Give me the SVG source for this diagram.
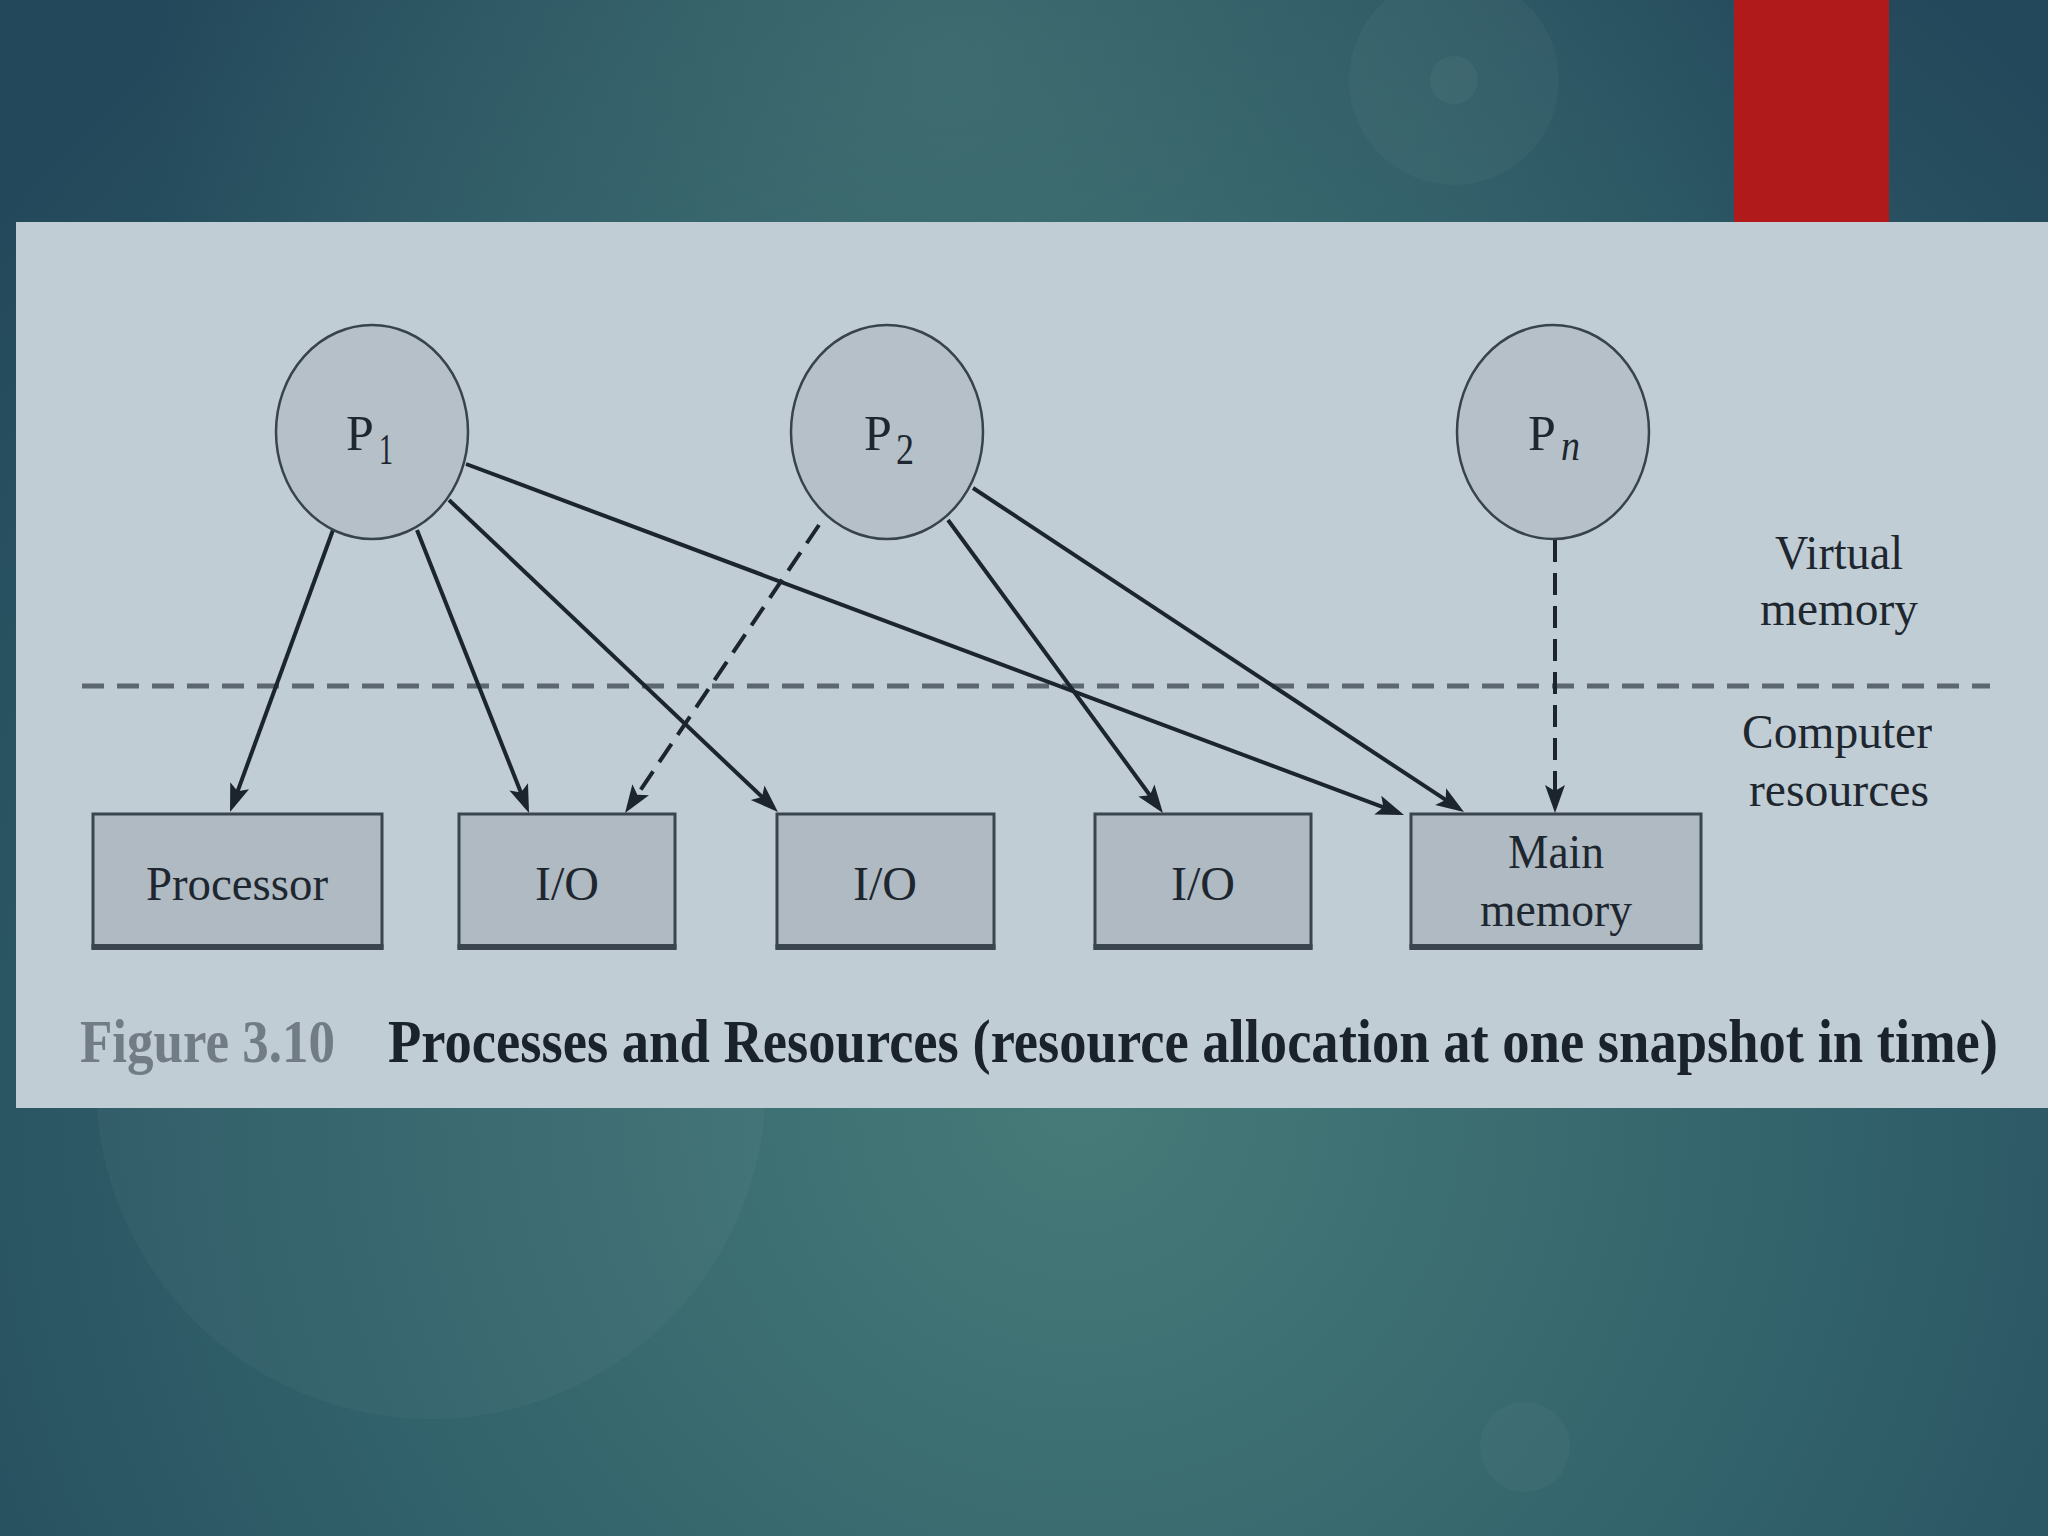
<svg xmlns="http://www.w3.org/2000/svg" width="2048" height="1536" viewBox="0 0 2048 1536">
<defs>
<radialGradient id="bg" cx="1080" cy="1100" r="1400" gradientUnits="userSpaceOnUse">
<stop offset="0" stop-color="#467b79"/>
<stop offset="0.55" stop-color="#31616a"/>
<stop offset="1" stop-color="#23485b"/>
</radialGradient>
<radialGradient id="bgtop" cx="950" cy="60" r="800" gradientUnits="userSpaceOnUse">
<stop offset="0" stop-color="#4a7a78" stop-opacity="0.6"/>
<stop offset="1" stop-color="#4a7a78" stop-opacity="0"/>
</radialGradient>
<marker id="ah" markerUnits="userSpaceOnUse" viewBox="0 0 32 30" markerWidth="32" markerHeight="30" refX="24" refY="15" orient="auto">
<path d="M30,15 L2,5 L8,15 L2,25 Z" fill="#1c252e"/>
</marker>
<style>
.proc{fill:#b5c0c8;stroke:#38434d;stroke-width:2.5}
.box{fill:#afbac2;stroke:#3a4550;stroke-width:3}
.boxb{stroke:#3a4550;stroke-width:6}
.lbl{font-family:"Liberation Serif","Times New Roman",serif;font-size:48px;fill:#1e2730}
.plbl{font-family:"Liberation Serif","Times New Roman",serif;font-size:50px;fill:#1e2730}
.sub{font-family:"Liberation Serif","Times New Roman",serif;font-size:44px;fill:#1e2730}
.conn{stroke:#1c252e;stroke-width:4;fill:none;marker-end:url(#ah)}
.dash{stroke-dasharray:22 11}
.cap{font-family:"Liberation Serif","Times New Roman",serif;font-size:51px;font-weight:bold}
</style>
</defs>
<rect x="0" y="0" width="2048" height="1536" fill="url(#bg)"/>
<rect x="0" y="0" width="2048" height="600" fill="url(#bgtop)"/>
<circle cx="431" cy="1084" r="335" fill="#ffffff" fill-opacity="0.03"/>
<circle cx="1454" cy="80" r="105" fill="#ffffff" fill-opacity="0.03"/>
<circle cx="1454" cy="80" r="24" fill="#ffffff" fill-opacity="0.04"/>
<circle cx="1525" cy="1447" r="45" fill="#ffffff" fill-opacity="0.03"/>
<rect x="1734" y="0" width="155" height="222" fill="#b01a1a"/>
<rect x="16" y="222" width="2032" height="886" fill="#c1cdd4"/>
<line x1="82" y1="686" x2="1990" y2="686" stroke="#5d6771" stroke-width="5" stroke-dasharray="22 13"/>
<g id="connectors">
<line class="conn" x1="333" y1="530" x2="232.1" y2="806.4"/>
<line class="conn" x1="417" y1="530" x2="526.8" y2="807.4"/>
<line class="conn" x1="449" y1="500" x2="773.6" y2="807.9"/>
<line class="conn" x1="466" y1="464" x2="1398.4" y2="812.9"/>
<line class="conn dash" x1="819" y1="525" x2="628.4" y2="808"/>
<line class="conn" x1="948" y1="520" x2="1159.4" y2="808.2"/>
<line class="conn" x1="973" y1="488" x2="1459" y2="808.7"/>
<line class="conn dash" x1="1555" y1="540" x2="1555" y2="807"/>
</g>
<g id="p1">
<ellipse class="proc" cx="372" cy="432" rx="96" ry="107"/>
<text class="plbl" x="346" y="450">P</text><text class="sub" x="379" y="464" textLength="14" lengthAdjust="spacingAndGlyphs">1</text>
</g>
<g id="p2">
<ellipse class="proc" cx="887" cy="432" rx="96" ry="107"/>
<text class="plbl" x="864" y="450">P</text><text class="sub" x="896" y="464" textLength="18" lengthAdjust="spacingAndGlyphs">2</text>
</g>
<g id="pn">
<ellipse class="proc" cx="1553" cy="432" rx="96" ry="107"/>
<text class="plbl" x="1528" y="450">P</text><text class="sub" x="1561" y="460" font-style="italic" textLength="19" lengthAdjust="spacingAndGlyphs">n</text>
</g>
<g id="processor">
<rect class="box" x="93" y="814" width="289" height="134"/>
<line class="boxb" x1="91.5" y1="947" x2="383.5" y2="947"/>
<text class="lbl" x="237" y="900" text-anchor="middle" textLength="182" lengthAdjust="spacingAndGlyphs">Processor</text>
</g>
<g id="io1">
<rect class="box" x="459" y="814" width="216" height="134"/>
<line class="boxb" x1="457.5" y1="947" x2="676.5" y2="947"/>
<text class="lbl" x="567" y="900" text-anchor="middle">I/O</text>
</g>
<g id="io2">
<rect class="box" x="777" y="814" width="217" height="134"/>
<line class="boxb" x1="775.5" y1="947" x2="995.5" y2="947"/>
<text class="lbl" x="885" y="900" text-anchor="middle">I/O</text>
</g>
<g id="io3">
<rect class="box" x="1095" y="814" width="216" height="134"/>
<line class="boxb" x1="1093.5" y1="947" x2="1312.5" y2="947"/>
<text class="lbl" x="1203" y="900" text-anchor="middle">I/O</text>
</g>
<g id="mainmem">
<rect class="box" x="1411" y="814" width="290" height="134"/>
<line class="boxb" x1="1409.5" y1="947" x2="1702.5" y2="947"/>
<text class="lbl" x="1556" y="868" text-anchor="middle" textLength="96" lengthAdjust="spacingAndGlyphs">Main</text>
<text class="lbl" x="1556" y="926" text-anchor="middle" textLength="152" lengthAdjust="spacingAndGlyphs">memory</text>
</g>
<g id="layer-labels">
<text class="lbl" x="1839" y="569" text-anchor="middle" textLength="128" lengthAdjust="spacingAndGlyphs">Virtual</text>
<text class="lbl" x="1839" y="625" text-anchor="middle" textLength="158" lengthAdjust="spacingAndGlyphs">memory</text>
<text class="lbl" x="1837" y="748" text-anchor="middle" textLength="190" lengthAdjust="spacingAndGlyphs">Computer</text>
<text class="lbl" x="1839" y="806" text-anchor="middle" textLength="180" lengthAdjust="spacingAndGlyphs">resources</text>
</g>
<g id="caption" transform="translate(0,1062) scale(1,1.22)">
<text class="cap" x="80" y="0" fill="#727c86" textLength="255" lengthAdjust="spacingAndGlyphs">Figure 3.10</text>
<text class="cap" x="388" y="0" fill="#1a222b" textLength="1610" lengthAdjust="spacingAndGlyphs">Processes and Resources (resource allocation at one snapshot in time)</text>
</g>
</svg>
